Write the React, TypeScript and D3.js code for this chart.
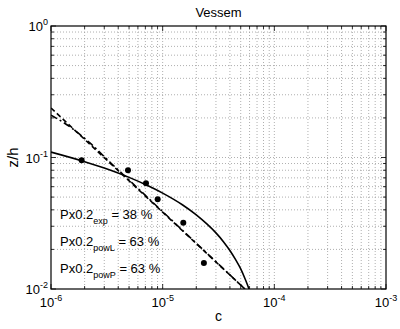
import React from "react";
import * as d3 from "d3";

const pointsC = [1.88e-6, 4.89e-6, 7.09e-6, 9.02e-6, 1.53e-5, 2.34e-5];
const pointsZ = [0.0952, 0.08, 0.0636, 0.0481, 0.0319, 0.0158];

const expC = [1e-6, 2e-6, 3e-6, 5e-6, 7e-6, 1e-5, 1.5e-5, 2e-5, 2.5e-5, 3e-5, 3.5e-5, 4e-5, 4.5e-5, 5e-5, 5.5e-5, 5.93e-5, 6.2e-5];
const expZ = [0.11, 0.093, 0.0831, 0.0706, 0.0623, 0.0536, 0.0437, 0.0366, 0.0311, 0.0267, 0.0229, 0.0196, 0.0167, 0.0142, 0.0118, 0.01, 0.0089];

const powLC = [1e-6, 5.45e-5];
const powLZ = [0.238, 0.01];

const powPC = [1e-6, 1.48e-6, 2.23e-6, 3.38e-6, 5.1e-6, 5.45e-5];
const powPZ = [0.21, 0.171, 0.129, 0.092, 0.0663, 0.01];

const xTickExps = ["-6", "-5", "-4", "-3"];
const xTickVals = [1e-6, 1e-5, 1e-4, 1e-3];
const yTickExps = ["-2", "-1", "0"];
const yTickVals = [1e-2, 1e-1, 1];

const annLabels = ["exp", "powL", "powP"];
const annValues = ["38 %", "63 %", "63 %"];

const W = 400, H = 329;
const L = 51, R = 386, T = 26, B = 289;
const FONT = "'Liberation Sans', Arial, sans-serif";

export default function App() {
  const x = d3.scaleLog().domain([1e-6, 1e-3]).range([L, R]);
  const y = d3.scaleLog().domain([1e-2, 1]).range([B, T]);
  const xGrid = x.ticks().filter((v) => x(v) > L + 0.5 && x(v) < R - 0.5);
  const yGrid = y.ticks().filter((v) => y(v) < B - 0.5 && y(v) > T + 0.5);
  const isMajor = (v: number) => Math.abs(Math.log10(v) - Math.round(Math.log10(v))) < 1e-6;

  const mk = (cs: number[], zs: number[], curve: any) =>
    d3.line<number>().x((_, i) => x(cs[i])).y((_, i) => y(zs[i])).curve(curve)(cs.map((_, i) => i)) || "";

  const expPath = mk(expC, expZ, d3.curveMonotoneX);
  const powLPath = mk(powLC, powLZ, d3.curveLinear);
  const powPPath = mk(powPC, powPZ, d3.curveMonotoneX);

  const allX = x.ticks();
  const allY = y.ticks();

  return (
    <svg width={W} height={H} style={{ position: "absolute", left: 0, top: 0, background: "#fff" }} fontFamily={FONT}>
      <defs>
        <clipPath id="clip">
          <rect x={L} y={T} width={R - L} height={B - T} />
        </clipPath>
      </defs>
      <rect x={0} y={0} width={W} height={H} fill="#fff" />
      {/* grid */}
      <g stroke="#9a9a9a" strokeWidth={0.8} strokeDasharray="1,2">
        {xGrid.map((v, i) => (
          <line key={"gx" + i} x1={x(v)} x2={x(v)} y1={T} y2={B} />
        ))}
        {yGrid.map((v, i) => (
          <line key={"gy" + i} x1={L} x2={R} y1={y(v)} y2={y(v)} />
        ))}
      </g>
      {/* ticks */}
      <g stroke="#000" strokeWidth={0.8}>
        {allX.map((v, i) => {
          const len = isMajor(v) ? 5 : 3;
          return (
            <g key={"tx" + i}>
              <line x1={x(v)} x2={x(v)} y1={B} y2={B - len} />
              <line x1={x(v)} x2={x(v)} y1={T} y2={T + len} />
            </g>
          );
        })}
        {allY.map((v, i) => {
          const len = isMajor(v) ? 5 : 3;
          return (
            <g key={"ty" + i}>
              <line x1={L} x2={L + len} y1={y(v)} y2={y(v)} />
              <line x1={R} x2={R - len} y1={y(v)} y2={y(v)} />
            </g>
          );
        })}
      </g>
      {/* lines */}
      <g clipPath="url(#clip)" fill="none" stroke="#000">
        <path d={expPath} strokeWidth={1.6} />
        <path d={powLPath} strokeWidth={1.6} strokeDasharray="5,3" />
        <path d={powPPath} strokeWidth={1.6} strokeDasharray="7,3,2,3" />
      </g>
      {/* points */}
      <g fill="#000">
        {pointsC.map((c, i) => (
          <circle key={"p" + i} cx={x(c)} cy={y(pointsZ[i])} r={3} />
        ))}
      </g>
      {/* box */}
      <rect x={L} y={T} width={R - L} height={B - T} fill="none" stroke="#000" strokeWidth={1.2} />
      {/* x tick labels */}
      {xTickVals.map((v, i) => (
        <text key={"xl" + i} x={x(v)} y={307} fontSize={13} textAnchor="middle" fill="#000">
          10<tspan fontSize={9} dy={-6}>{xTickExps[i]}</tspan>
        </text>
      ))}
      {/* y tick labels */}
      {yTickVals.map((v, i) => (
        <text key={"yl" + i} x={48} y={y(v) + 5} fontSize={13} textAnchor="end" fill="#000">
          10<tspan fontSize={9} dy={-6}>{yTickExps[i]}</tspan>
        </text>
      ))}
      {/* axis labels */}
      <text x={(L + R) / 2} y={321} fontSize={14} textAnchor="middle" fill="#000">c</text>
      <text transform={`translate(18,${(T + B) / 2}) rotate(-90)`} fontSize={15} textAnchor="middle" fill="#000">z/h</text>
      <text x={(L + R) / 2} y={17} fontSize={13} textAnchor="middle" fill="#000">Vessem</text>
      {/* annotations */}
      {annLabels.map((lab, i) => (
        <text key={"a" + i} x={60} y={219 + i * 27} fontSize={13} fill="#000">
          Px0.2<tspan fontSize={9} dy={5}>{lab}</tspan>
          <tspan dy={-5}> = {annValues[i]}</tspan>
        </text>
      ))}
    </svg>
  );
}
